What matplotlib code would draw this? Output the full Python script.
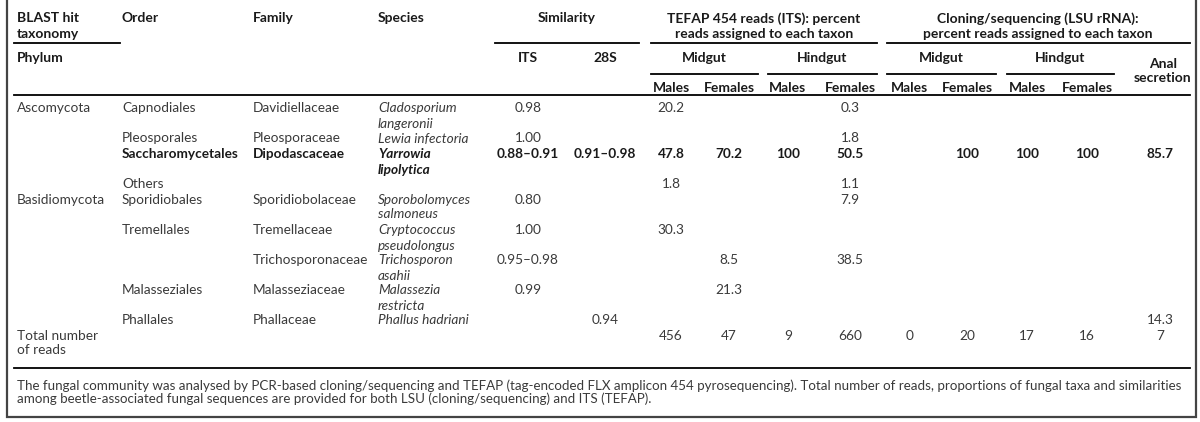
import matplotlib.pyplot as plt
from matplotlib.patches import Rectangle

plt.rcParams['font.family'] = ['Lato', 'DejaVu Sans']

# Table content
phylum = ["Ascomycota", "", "", "", "Basidiomycota", "", "", "", ""]
orders = ["Capnodiales", "Pleosporales", "Saccharomycetales", "Others", "Sporidiobales",
          "Tremellales", "", "Malasseziales", "Phallales"]
families = ["Davidiellaceae", "Pleosporaceae", "Dipodascaceae", "", "Sporidiobolaceae",
            "Tremellaceae", "Trichosporonaceae", "Malasseziaceae", "Phallaceae"]
species = ["Cladosporium\nlangeronii", "Lewia infectoria", "Yarrowia\nlipolytica", "",
           "Sporobolomyces\nsalmoneus", "Cryptococcus\npseudolongus", "Trichosporon\nasahii",
           "Malassezia\nrestricta", "Phallus hadriani"]
sim_its = ["0.98", "1.00", "0.88\u20130.91", "", "0.80", "1.00", "0.95\u20130.98", "0.99", ""]
sim_28s = ["", "", "0.91\u20130.98", "", "", "", "", "", "0.94"]
tefap_mid_m = ["20.2", "", "47.8", "1.8", "", "30.3", "", "", ""]
tefap_mid_f = ["", "", "70.2", "", "", "", "8.5", "21.3", ""]
tefap_hind_m = ["", "", "100", "", "", "", "", "", ""]
tefap_hind_f = ["0.3", "1.8", "50.5", "1.1", "7.9", "", "38.5", "", ""]
clon_mid_m = ["", "", "", "", "", "", "", "", ""]
clon_mid_f = ["", "", "100", "", "", "", "", "", ""]
clon_hind_m = ["", "", "100", "", "", "", "", "", ""]
clon_hind_f = ["", "", "100", "", "", "", "", "", ""]
anal = ["", "", "85.7", "", "", "", "", "", "14.3"]
totals = ["456", "47", "9", "660", "0", "20", "17", "16", "7"]
bold_row = 2

footnote = ("The fungal community was analysed by PCR-based cloning/sequencing and TEFAP (tag-encoded FLX "
            "amplicon 454 pyrosequencing). Total number of reads, proportions of fungal taxa and similarities\n"
            "among beetle-associated fungal sequences are provided for both LSU (cloning/sequencing) and ITS (TEFAP).")

# Layout (pixel coordinates)
row_y = [107, 137, 153, 183, 198, 229, 259, 289, 319]
total_y = 334
line_gap = 15
dy = 1.5
x_phylum, x_order, x_family, x_species = 17, 122, 253, 378
num_cols = [sim_its, sim_28s, tefap_mid_m, tefap_mid_f, tefap_hind_m, tefap_hind_f,
            clon_mid_m, clon_mid_f, clon_hind_m, clon_hind_f, anal]
num_x = [528, 605, 671, 729, 788, 850, 910, 967, 1027, 1087, 1160]

fs = 9.8
fs_head = 10.0
fs_note = 9.6
body_c = "#3a3a3a"
head_c = "#1a1a1a"

fig = plt.figure(figsize=(12, 4.22), dpi=100)
ax = fig.add_axes([0, 0, 1, 1])
ax.set_xlim(0, 1200)
ax.set_ylim(422, 0)
ax.axis("off")


def txt(x, y, s, ha="left", bold=False, italic=False, color=body_c, size=fs):
    for i, part in enumerate(s.split("\n")):
        ax.text(x, y + dy + i * line_gap, part, ha=ha, va="center", fontsize=size, color=color,
                fontweight="bold" if bold else "normal",
                fontstyle="italic" if italic else "normal")


def head(x, y, s, ha="left"):
    txt(x, y, s, ha=ha, bold=True, color=head_c, size=fs_head)


# Header
head(17, 17, "BLAST hit\ntaxonomy")
head(17, 57, "Phylum")
head(x_order, 17, "Order")
head(x_family, 17, "Family")
head(x_species, 17, "Species")
head(567, 17, "Similarity", ha="center")
head(num_x[0], 57, "ITS", ha="center")
head(num_x[1], 57, "28S", ha="center")
head(764, 17, "TEFAP 454 reads (ITS): percent\nreads assigned to each taxon", ha="center")
head(1038, 17, "Cloning/sequencing (LSU rRNA):\npercent reads assigned to each taxon", ha="center")
for cx, lab in [(704, "Midgut"), (822, "Hindgut"), (941, "Midgut"), (1060, "Hindgut")]:
    head(cx, 57, lab, ha="center")
for cx, lab in zip(num_x[2:10], ["Males", "Females"] * 4):
    head(cx, 86, lab, ha="center")
head(1163, 62, "Anal\nsecretion", ha="center")

# Rules
lw = 1.3
for x0, x1 in [(14, 120), (495, 639), (651, 877), (887, 1190)]:
    ax.plot([x0, x1], [43, 43], color="black", lw=lw)
for x0, x1 in [(651, 758), (768, 877), (887, 996), (1007, 1114)]:
    ax.plot([x0, x1], [74, 74], color="black", lw=lw)
ax.plot([14, 1190], [95, 95], color="black", lw=lw)
ax.plot([14, 1190], [368, 368], color="black", lw=lw)
ax.add_patch(Rectangle((7, -10), 1189, 427, fill=False, edgecolor="#444444", lw=1.6))

# Body
for i, y in enumerate(row_y):
    b = i == bold_row
    c = head_c if b else body_c
    txt(x_phylum, y, phylum[i], bold=b, color=c)
    txt(x_order, y, orders[i], bold=b, color=c)
    txt(x_family, y, families[i], bold=b, color=c)
    txt(x_species, y, species[i], bold=b, italic=True, color=c)
    for col, cx in zip(num_cols, num_x):
        if col[i]:
            txt(cx, y, col[i], ha="center", bold=b, color=c)

txt(x_phylum, total_y, "Total number\nof reads")
for v, cx in zip(totals, num_x[2:]):
    txt(cx, total_y, v, ha="center")

# Footnote
lines = footnote.split("\n")
txt(17, 384, lines[0], size=fs_note)
txt(17, 397, lines[1], size=fs_note)

fig.savefig("out.png", dpi=100)
